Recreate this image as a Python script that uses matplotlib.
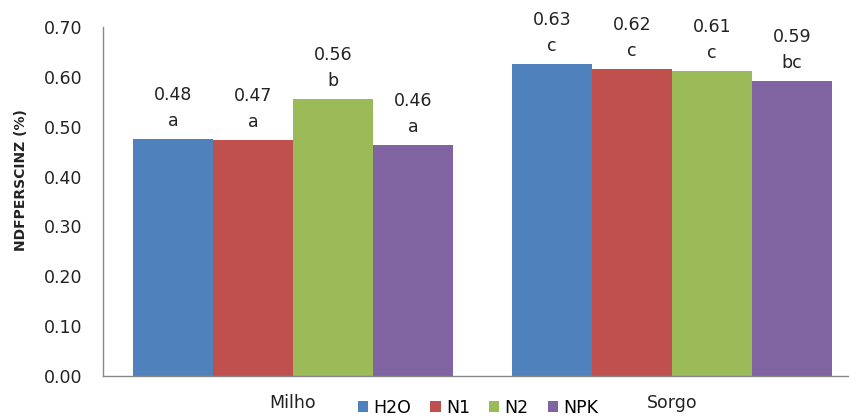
import matplotlib.pyplot as plt
import numpy as np

# NDF per cinza by crop and fertiliser treatment
culturas = ["Milho", "Sorgo"]
tratamentos = ["H2O", "N1", "N2", "NPK"]
valores = {
    "H2O": [0.476, 0.626],
    "N1": [0.473, 0.616],
    "N2": [0.556, 0.612],
    "NPK": [0.463, 0.592],
}
rotulos = {
    "H2O": ["0.48", "0.63"],
    "N1": ["0.47", "0.62"],
    "N2": ["0.56", "0.61"],
    "NPK": ["0.46", "0.59"],
}
letras = {
    "H2O": ["a", "c"],
    "N1": ["a", "c"],
    "N2": ["b", "c"],
    "NPK": ["a", "bc"],
}
cores = ["#4F81BD", "#C0504D", "#9BBB59", "#8064A2"]

plt.rcParams['font.family'] = ['DejaVu Sans']
fs = 12.5

fig = plt.figure(figsize=(8.49, 4.19), dpi=100)
ax = fig.add_axes([0.1213, 0.1026, 0.8787, 0.833])

x = np.arange(len(culturas))
w = 0.211
for i, t in enumerate(tratamentos):
    pos = x + (i - 1.5) * w
    ax.bar(pos, valores[t], width=w, color=cores[i], label=t)
    for xp, v, r, l in zip(pos, valores[t], rotulos[t], letras[t]):
        ax.annotate(r, (xp, v), xytext=(0, 44), textcoords='offset pixels',
                    ha='center', va='center', fontsize=fs, color='#222222')
        ax.annotate(l, (xp, v), xytext=(0, 18), textcoords='offset pixels',
                    ha='center', va='center', fontsize=fs, color='#222222')

ax.set_xlim(-0.501, 1.467)
ax.set_ylim(0, 0.70)
ax.set_yticks(np.arange(0, 0.71, 0.1))
ax.set_yticklabels([f"{v:.2f}" for v in np.arange(0, 0.71, 0.1)], fontsize=fs, color='#222222')
ax.set_xticks(x)
ax.set_xticklabels(culturas, fontsize=fs, color='#222222')
ax.tick_params(axis='x', length=0, pad=13)
ax.tick_params(axis='y', length=0, pad=15)

fig.text(21 / 849, 1 - 180 / 419, "NDFPERSCINZ (%)", rotation=90, ha='center', va='center',
         fontsize=10, fontweight='bold', color='#222222')

for s in ['top', 'right']:
    ax.spines[s].set_visible(False)
for s in ['left', 'bottom']:
    ax.spines[s].set_color('#888888')
    ax.spines[s].set_linewidth(1)

ax.legend(loc='center', bbox_to_anchor=(478 / 849, 11 / 419), bbox_transform=fig.transFigure,
          ncol=4, frameon=False, fontsize=fs, handlelength=0.6, handleheight=0.6,
          handletextpad=0.3, columnspacing=1.1, borderpad=0)

fig.savefig("out.png", dpi=100)
